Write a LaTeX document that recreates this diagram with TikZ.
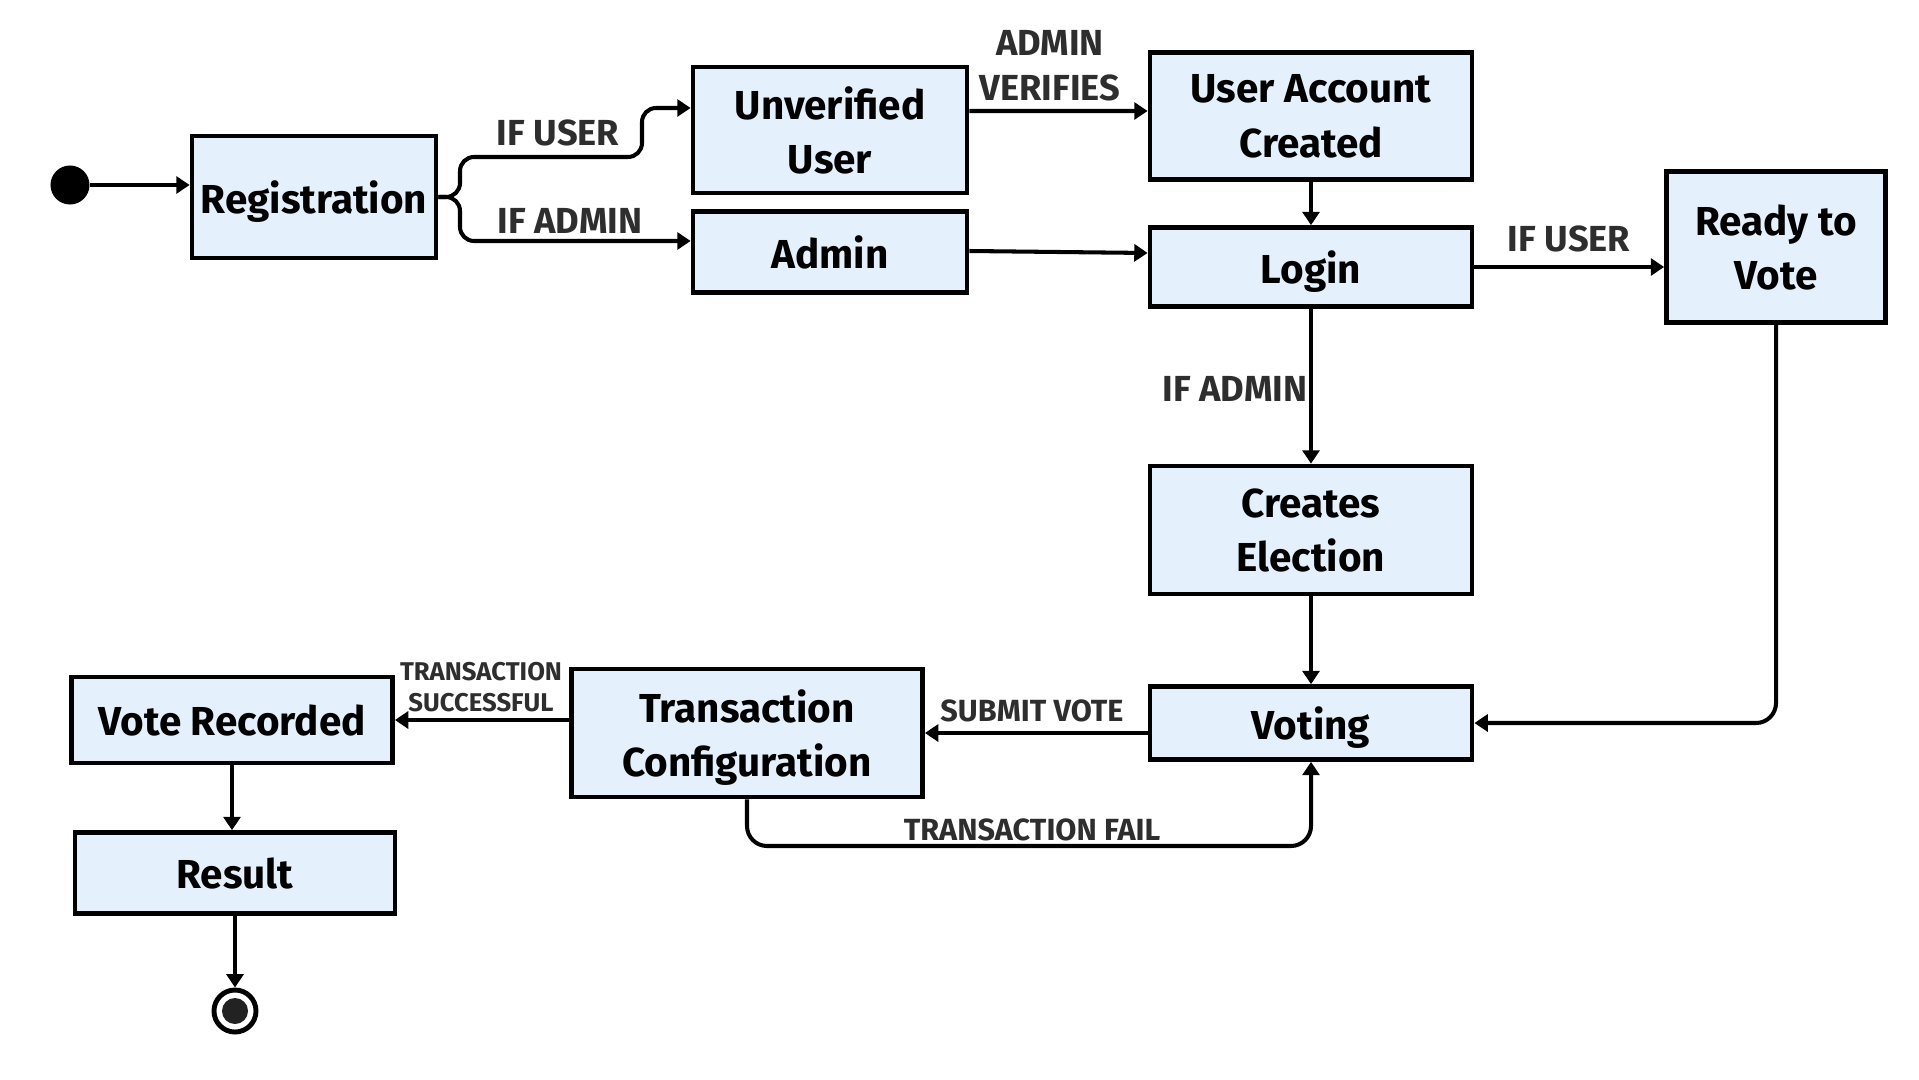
\documentclass[tikz,border=0pt]{standalone}
\usepackage{fontspec}
\setmainfont{Fira Sans}
\usepackage{xcolor}
\usetikzlibrary{arrows.meta}
\usetikzlibrary{positioning}
\definecolor{boxblue}{HTML}{E4F0FC}
\definecolor{lblgray}{HTML}{2E2E2E}
\definecolor{dotgray}{HTML}{222222}
\newcommand{\boxfont}{\bfseries\fontsize{11.5}{15.4}\selectfont}
\newcommand{\lblfont}{\bfseries\fontsize{10.3}{12.8}\selectfont}
\newcommand{\midfont}{\bfseries\fontsize{8.7}{10.5}\selectfont}
\newcommand{\tinyfont}{\bfseries\fontsize{7.3}{8.8}\selectfont}

\begin{document}
\begin{tikzpicture}[x=0.01cm,y=-0.01cm]
	\tikzset{>={Triangle[length=3.8pt,width=4.8pt]}}
	\tikzset{
		state/.style={draw, line width=1.3pt, fill=boxblue, font=\boxfont, align=center, inner sep=0pt, text depth=0pt},
		lbl/.style={font=\lblfont, text=lblgray, align=center, inner sep=0pt},
		flow/.style={->, line width=1.15pt},
	}
	\useasboundingbox (0,0) rectangle (1919,1079);
	
	% start and states
	\node[circle, fill=black, minimum size=0.39cm, inner sep=0pt] (start) at (70,185) {};
	\node[state, minimum width=2.44cm, minimum height=1.22cm] (reg) at (314,197) {Registration};
	\node[state, minimum width=2.74cm, minimum height=1.26cm] (unver) at (830,130) {Unverified\\User};
	\node[state, minimum width=2.74cm, minimum height=0.81cm] (admin) at (830,252) {Admin};
	\node[state, minimum width=3.22cm, minimum height=1.27cm] (uac) at (1311,116) {User Account\\Created};
	\node[state, minimum width=3.22cm, minimum height=0.79cm] (login) at (1311,267) {Login};
	\node[state, minimum width=2.19cm, minimum height=1.51cm] (ready) at (1776,247) {Ready to\\Vote};
	\node[state, minimum width=3.22cm, minimum height=1.28cm] (creates) at (1311,530) {Creates\\Election};
	\node[state, minimum width=3.22cm, minimum height=0.73cm] (voting) at (1311,723) {Voting};
	\node[state, minimum width=3.51cm, minimum height=1.28cm] (tconf) at (747,733) {Transaction\\Configuration};
	\node[state, minimum width=3.21cm, minimum height=0.86cm] (recorded) at (232,720) {Vote Recorded};
	\node[state, minimum width=3.20cm, minimum height=0.81cm] (result) at (235,873) {Result};
	\node[circle, draw, line width=1.4pt, fill=white, minimum size=0.42cm, inner sep=0pt] (stop) at (235,1011) {};
	\node[circle, fill=dotgray, minimum size=0.26cm, inner sep=0pt] (stopdot) at (stop) {};
	
	\coordinate (fork) at (460,197);
	\coordinate (bend) at (642,157);
	\coordinate (failpt) at (1311,846);
	
	% connectors
	\draw[flow] (start) -- (start -| reg.west);
	\draw[flow, rounded corners=0.14cm] (reg.east) -- (fork) |- (bend) |- ([yshift=0.22cm]unver.west);
	\draw[flow, rounded corners=0.14cm] (reg.east) -- (fork) |- ([yshift=0.11cm]admin.west);
	\node[lbl] (ifuser) at (558,133) {IF USER};
	\node[lbl] (ifadmin) at (570,221) {IF ADMIN};
	
	\draw[flow] ([yshift=0.19cm]unver.east) -- ([yshift=0.05cm]uac.west);
	\node[lbl] (verifies) at (1050,66) {ADMIN\\VERIFIES};
	\draw[flow] ([yshift=0.01cm]admin.east) -- ([yshift=0.14cm]login.west);
	\draw[flow] (uac.south) -- (login.north);
	
	\draw[flow] (login.east) -- (login.east -| ready.west);
	\node[lbl] (ifuser2) at (1569,239) {IF USER};
	\draw[flow] (login.south) -- (creates.north);
	\node[lbl, anchor=east] (ifadmin2) at (1308,389) {IF ADMIN};
	\draw[flow] (creates.south) -- (voting.north);
	\draw[flow, rounded corners=0.2cm] (ready.south) |- (voting.east);
	
	\draw[flow] (voting.west |- tconf.east) -- (tconf.east);
	\node[lbl, font=\midfont] (submit) at (1032,711) {SUBMIT VOTE};
	\draw[flow, rounded corners=0.2cm] (tconf.south) |- (failpt) -- (voting.south);
	\node[lbl, font=\midfont] (fail) at (1032,830) {TRANSACTION FAIL};
	
	\draw[flow] (tconf.west |- recorded.east) -- (recorded.east);
	\node[lbl, font=\tinyfont] (success) at (481,687) {TRANSACTION\\SUCCESSFUL};
	\draw[flow] (recorded.south) -- (recorded.south |- result.north);
	\draw[flow] (result.south) -- (stop.north);
\end{tikzpicture}
\end{document}
